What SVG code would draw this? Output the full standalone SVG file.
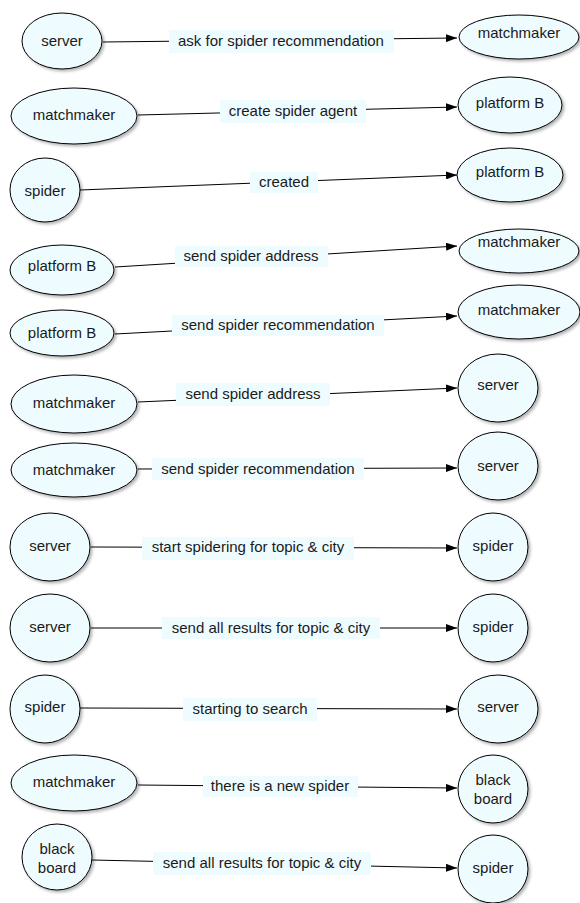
<svg xmlns="http://www.w3.org/2000/svg" width="580" height="903" viewBox="0 0 580 903">
<style>
.n{fill:#effcff;stroke:#000;stroke-width:1;filter:url(#sh)}
.t{font-family:"Liberation Sans",Arial,sans-serif;font-size:15px;fill:#1a1a1a;text-anchor:middle}
.lb{fill:#effcff;stroke:none}
.c{stroke:#000;stroke-width:1;fill:none;marker-end:url(#ar)}
</style>
<defs>
<filter id="sh" x="-20%" y="-20%" width="150%" height="150%">
<feGaussianBlur in="SourceAlpha" stdDeviation="1.5"/>
<feOffset dx="2" dy="2" result="b"/>
<feComponentTransfer><feFuncA type="linear" slope="0.3"/></feComponentTransfer>
<feMerge><feMergeNode/><feMergeNode in="SourceGraphic"/></feMerge>
</filter>
<marker id="ar" markerUnits="userSpaceOnUse" markerWidth="11" markerHeight="8" refX="11" refY="4" orient="auto">
<path d="M0,0 L11,4 L0,8 z" fill="#000"/>
</marker>
</defs>
<g id="connectors">
<line class="c" x1="103" y1="42" x2="457" y2="38"/>
<line class="c" x1="138" y1="115" x2="457" y2="107"/>
<line class="c" x1="80" y1="190" x2="457" y2="175"/>
<line class="c" x1="115" y1="267" x2="457" y2="246"/>
<line class="c" x1="115" y1="334" x2="457" y2="316"/>
<line class="c" x1="138" y1="402" x2="457" y2="388"/>
<line class="c" x1="138" y1="469" x2="457" y2="468"/>
<line class="c" x1="91" y1="547" x2="457" y2="548"/>
<line class="c" x1="91" y1="628" x2="457" y2="628"/>
<line class="c" x1="80" y1="708" x2="457" y2="709"/>
<line class="c" x1="138" y1="785" x2="457" y2="788"/>
<line class="c" x1="92" y1="860" x2="457" y2="868"/>
<g id="labels">
<rect class="lb" x="169" y="30" width="225" height="23"/><text class="t" x="281" y="46">ask for spider recommendation</text>
<rect class="lb" x="220" y="100" width="146" height="23"/><text class="t" x="293" y="116">create spider agent</text>
<rect class="lb" x="250" y="172" width="68" height="21"/><text class="t" x="284" y="187">created</text>
<rect class="lb" x="175" y="246" width="153" height="21"/><text class="t" x="251" y="261">send spider address</text>
<rect class="lb" x="172" y="315" width="212" height="21"/><text class="t" x="278" y="330">send spider recommendation</text>
<rect class="lb" x="176" y="383" width="154" height="23"/><text class="t" x="253" y="399">send spider address</text>
<rect class="lb" x="152" y="458" width="212" height="22"/><text class="t" x="258" y="474">send spider recommendation</text>
<rect class="lb" x="142" y="537" width="212" height="23"/><text class="t" x="248" y="552">start spidering for topic &amp; city</text>
<rect class="lb" x="162" y="617" width="218" height="22"/><text class="t" x="271" y="633">send all results for topic &amp; city</text>
<rect class="lb" x="183" y="698" width="134" height="23"/><text class="t" x="250" y="714">starting to search</text>
<rect class="lb" x="203" y="776" width="155" height="21"/><text class="t" x="280" y="791">there is a new spider</text>
<rect class="lb" x="153" y="852" width="218" height="23"/><text class="t" x="262" y="868">send all results for topic &amp; city</text>
</g>
</g>
<g id="n1a"><ellipse class="n" cx="62" cy="41" rx="40" ry="28"/><text class="t" x="62" y="46">server</text></g>
<g id="n1b"><ellipse class="n" cx="519" cy="37" rx="60" ry="22"/><text class="t" x="519" y="38">matchmaker</text></g>
<g id="n2a"><ellipse class="n" cx="74" cy="116" rx="63" ry="28"/><text class="t" x="74" y="120">matchmaker</text></g>
<g id="n2b"><ellipse class="n" cx="510" cy="105" rx="52" ry="28"/><text class="t" x="510" y="108">platform B</text></g>
<g id="n3a"><ellipse class="n" cx="45" cy="190" rx="35" ry="32"/><text class="t" x="45" y="196">spider</text></g>
<g id="n3b"><ellipse class="n" cx="510" cy="175" rx="53" ry="27"/><text class="t" x="510" y="177">platform B</text></g>
<g id="n4a"><ellipse class="n" cx="62" cy="270" rx="52" ry="25"/><text class="t" x="62" y="271">platform B</text></g>
<g id="n4b"><ellipse class="n" cx="519" cy="251" rx="60" ry="22"/><text class="t" x="519" y="247">matchmaker</text></g>
<g id="n5a"><ellipse class="n" cx="62" cy="333" rx="52" ry="23"/><text class="t" x="62" y="338">platform B</text></g>
<g id="n5b"><ellipse class="n" cx="519" cy="312" rx="61" ry="27"/><text class="t" x="519" y="315">matchmaker</text></g>
<g id="n6a"><ellipse class="n" cx="74" cy="404" rx="63" ry="29"/><text class="t" x="74" y="408">matchmaker</text></g>
<g id="n6b"><ellipse class="n" cx="498" cy="388" rx="40" ry="34"/><text class="t" x="498" y="390">server</text></g>
<g id="n7a"><ellipse class="n" cx="74" cy="470" rx="63" ry="27"/><text class="t" x="74" y="475">matchmaker</text></g>
<g id="n7b"><ellipse class="n" cx="498" cy="466" rx="40" ry="34"/><text class="t" x="498" y="471">server</text></g>
<g id="n8a"><ellipse class="n" cx="50" cy="547" rx="40" ry="34"/><text class="t" x="50" y="551">server</text></g>
<g id="n8b"><ellipse class="n" cx="493" cy="547" rx="35" ry="34"/><text class="t" x="493" y="551">spider</text></g>
<g id="n9a"><ellipse class="n" cx="50" cy="628" rx="40" ry="34"/><text class="t" x="50" y="632">server</text></g>
<g id="n9b"><ellipse class="n" cx="493" cy="628" rx="35" ry="34"/><text class="t" x="493" y="632">spider</text></g>
<g id="n10a"><ellipse class="n" cx="45" cy="709" rx="35" ry="34"/><text class="t" x="45" y="712">spider</text></g>
<g id="n10b"><ellipse class="n" cx="498" cy="709" rx="40" ry="34"/><text class="t" x="498" y="712">server</text></g>
<g id="n11a"><ellipse class="n" cx="74" cy="783" rx="63" ry="28"/><text class="t" x="74" y="787">matchmaker</text></g>
<g id="n11b"><ellipse class="n" cx="493" cy="789" rx="35" ry="34"/><text class="t" x="493" y="785">black</text><text class="t" x="493" y="804">board</text></g>
<g id="n12a"><ellipse class="n" cx="57" cy="857" rx="35" ry="33"/><text class="t" x="57" y="854">black</text><text class="t" x="57" y="873">board</text></g>
<g id="n12b"><ellipse class="n" cx="493" cy="869" rx="35" ry="34"/><text class="t" x="493" y="873">spider</text></g>
</svg>
